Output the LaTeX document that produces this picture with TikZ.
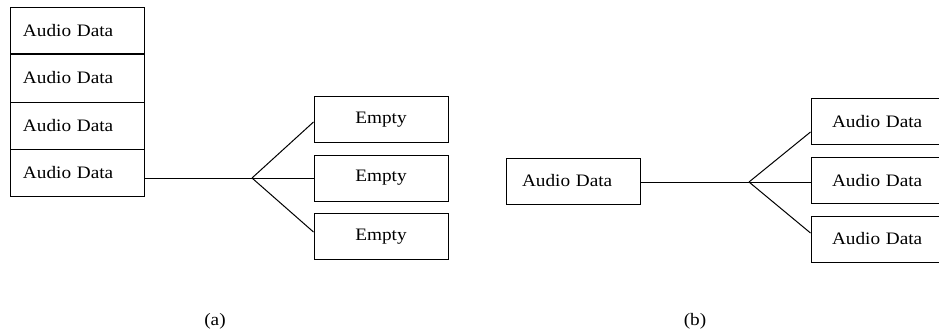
\documentclass[tikz,border=0pt]{standalone}
\usepackage{fontspec}
\setmainfont{Liberation Serif}[FakeStretch=1.1]
\begin{document}
\begin{tikzpicture}[x=1pt,y=-1pt,
  every node/.style={font=\fontsize{17.5}{20}\selectfont},
  box/.style={draw,line width=1pt,minimum width=134pt,minimum height=46pt,inner sep=0pt},
  leftbox/.style={box,text width=108pt,align=left,inner xsep=13pt},
  link/.style={line width=1pt}]
\useasboundingbox (0,0) rectangle (939,332);

% (a): stack of four filled slots feeding three empty slots
\node[leftbox,minimum height=47pt] (r1) at (77,30.5) {Audio Data};
\node[leftbox,minimum height=49pt] (r2) at (77,77.5) {Audio Data};
\node[leftbox,minimum height=47pt] (r3) at (77,125.5) {Audio Data};
\node[leftbox,minimum height=47pt] (r4) at (77,172.5) {Audio Data};

\node[box] (e1) at (381,119.5) {Empty};
\node[box] (e2) at (381,178) {Empty};
\node[box] (e3) at (381,236.5) {Empty};

\coordinate (ba) at (252,178);
\draw[link] (r4.east |- ba) -- (ba);
\draw[link] (ba) -- ([yshift=-2.5pt]e1.west);
\draw[link] (ba) -- (e2.west);
\draw[link] (ba) -- ([yshift=4.5pt]e3.west);

\node (la) at (215,321) {(a)};

% (b): one filled slot copied to three slots
\node[box,text width=102pt,align=left,inner xsep=16pt] (s) at (573,181) {Audio Data};

\node[box,text width=92pt,align=left,inner xsep=21pt] (b1) at (878,121.5) {Audio Data};
\node[box,text width=92pt,align=left,inner xsep=21pt] (b2) at (878,180.5) {Audio Data};
\node[box,text width=92pt,align=left,inner xsep=21pt] (b3) at (878,239) {Audio Data};

\coordinate (bb) at (749,182);
\draw[link] (s.east |- bb) -- (bb);
\draw[link] (bb) -- ([yshift=-10.5pt]b1.west);
\draw[link] (bb) -- (b2.west |- bb);
\draw[link] (bb) -- ([yshift=6pt]b3.west);

\node (lb) at (695,321) {(b)};
\end{tikzpicture}
\end{document}
